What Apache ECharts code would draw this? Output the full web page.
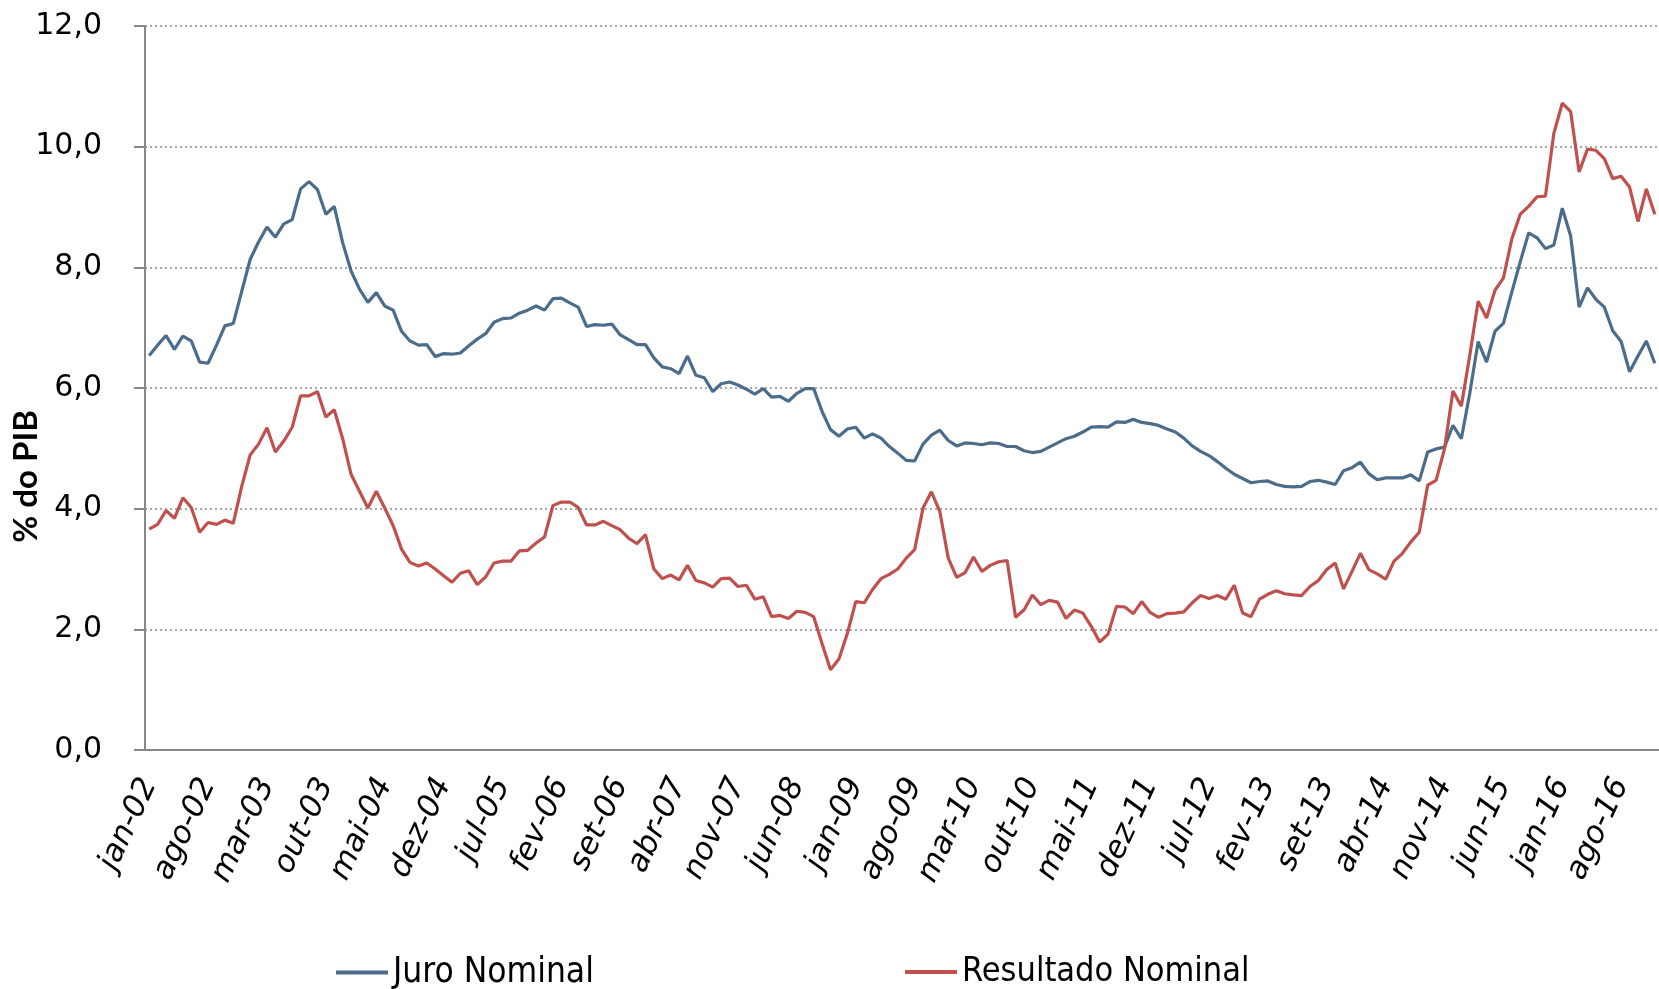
<!DOCTYPE html>
<html>
<head>
<meta charset="utf-8">
<script src="https://cdn.jsdelivr.net/npm/echarts@6/dist/echarts.min.js"></script>
<style>
  html, body { margin: 0; padding: 0; background: #fff; }
  #chart { width: 1659px; height: 989px; }
</style>
</head>
<body>
<div id="chart"></div>
<script>
// meses em pt-BR, série mensal jan-02 .. dez-16
let monthNames = ['jan', 'fev', 'mar', 'abr', 'mai', 'jun', 'jul', 'ago', 'set', 'out', 'nov', 'dez']
let years = ['02', '03', '04', '05', '06', '07', '08', '09', '10', '11', '12', '13', '14', '15', '16']

// % do PIB
let juroNominal = [
  6.54, 6.71, 6.87, 6.64, 6.86, 6.78, 6.43, 6.41, 6.71, 7.03, 7.07, 7.60,
  8.13, 8.42, 8.67, 8.50, 8.72, 8.79, 9.30, 9.42, 9.29, 8.88, 9.01, 8.41,
  7.94, 7.64, 7.42, 7.58, 7.36, 7.29, 6.94, 6.78, 6.71, 6.72, 6.52, 6.57,
  6.56, 6.58, 6.70, 6.81, 6.90, 7.09, 7.15, 7.16, 7.24, 7.29, 7.36, 7.29,
  7.48, 7.49, 7.41, 7.34, 7.02, 7.05, 7.04, 7.06, 6.88, 6.80, 6.72, 6.72,
  6.50, 6.35, 6.32, 6.24, 6.53, 6.21, 6.17, 5.94, 6.07, 6.10, 6.05, 5.98,
  5.90, 5.99, 5.85, 5.86, 5.78, 5.91, 5.99, 5.99, 5.61, 5.31, 5.20, 5.32,
  5.35, 5.17, 5.24, 5.17, 5.03, 4.92, 4.80, 4.79, 5.07, 5.22, 5.30, 5.13,
  5.04, 5.09, 5.08, 5.06, 5.09, 5.08, 5.03, 5.03, 4.96, 4.93, 4.95, 5.02,
  5.09, 5.16, 5.20, 5.27, 5.35, 5.36, 5.35, 5.44, 5.43, 5.48, 5.43, 5.41,
  5.38, 5.32, 5.27, 5.17, 5.04, 4.95, 4.88, 4.78, 4.67, 4.57, 4.50, 4.43,
  4.45, 4.46, 4.40, 4.37, 4.36, 4.37, 4.45, 4.47, 4.44, 4.40, 4.63, 4.68,
  4.77, 4.58, 4.48, 4.51, 4.51, 4.51, 4.56, 4.46, 4.94, 4.99, 5.02, 5.38,
  5.16, 5.91, 6.77, 6.43, 6.94, 7.07, 7.59, 8.09, 8.57, 8.49, 8.31, 8.37,
  8.98, 8.52, 7.34, 7.66, 7.47, 7.34, 6.95, 6.77, 6.27, 6.53, 6.78, 6.41
]
let resultadoNominal = [
  3.66, 3.74, 3.97, 3.84, 4.18, 4.02, 3.61, 3.77, 3.74, 3.81, 3.76, 4.37,
  4.89, 5.07, 5.34, 4.94, 5.12, 5.35, 5.87, 5.87, 5.94, 5.52, 5.64, 5.16,
  4.57, 4.29, 4.01, 4.29, 4.01, 3.72, 3.33, 3.11, 3.05, 3.10, 3.00, 2.89,
  2.78, 2.93, 2.97, 2.74, 2.87, 3.10, 3.13, 3.13, 3.30, 3.31, 3.43, 3.53,
  4.05, 4.11, 4.11, 4.02, 3.73, 3.73, 3.79, 3.72, 3.65, 3.51, 3.42, 3.57,
  3.00, 2.84, 2.90, 2.82, 3.06, 2.81, 2.77, 2.70, 2.84, 2.85, 2.71, 2.73,
  2.50, 2.54, 2.21, 2.23, 2.18, 2.30, 2.28, 2.21, 1.76, 1.33, 1.51, 1.93,
  2.46, 2.44, 2.66, 2.84, 2.91, 3.00, 3.18, 3.32, 4.01, 4.28, 3.95, 3.18,
  2.86, 2.94, 3.20, 2.96, 3.06, 3.12, 3.14, 2.20, 2.32, 2.57, 2.41, 2.48,
  2.45, 2.18, 2.32, 2.27, 2.05, 1.79, 1.92, 2.38, 2.37, 2.26, 2.46, 2.28,
  2.20, 2.26, 2.27, 2.29, 2.44, 2.56, 2.51, 2.56, 2.50, 2.73, 2.27, 2.21,
  2.50, 2.58, 2.64, 2.59, 2.57, 2.56, 2.71, 2.81, 2.99, 3.10, 2.67, 2.96,
  3.26, 2.99, 2.92, 2.83, 3.13, 3.26, 3.45, 3.61, 4.39, 4.47, 4.99, 5.95,
  5.70, 6.54, 7.44, 7.16, 7.62, 7.82, 8.47, 8.88, 9.01, 9.17, 9.18, 10.22,
  10.72, 10.58, 9.58, 9.96, 9.94, 9.80, 9.47, 9.51, 9.33, 8.76, 9.30, 8.88
]

let meses = []
for (let y = 0; y < years.length; y++) {
  for (let m = 0; m < 12; m++) {
    meses.push(monthNames[m] + '-' + years[y])
  }
}

let legendFont = 'Liberation Sans Narrow, DejaVu Sans Condensed, sans-serif'

let chartDom = document.getElementById('chart')
let myChart = echarts.init(chartDom)
let option = {
  animation: false,
  backgroundColor: '#fff',
  grid: {
    left: 145,
    top: 26,
    bottom: 239,
    right: -4
  },
  // titulo do eixo y, um pouco abaixo do meio como no original
  graphic: [
    {
      type: 'text',
      left: 10,
      top: 410,
      rotation: Math.PI / 2,
      style: {
        text: '% do PIB',
        fontFamily: 'Lato',
        fontWeight: 'bold',
        fontSize: 33,
        fill: '#000'
      }
    }
  ],
  legend: [
    {
      data: ['Juro Nominal'],
      left: 331,
      top: 950,
      icon: 'rect',
      itemWidth: 52,
      itemHeight: 4,
      itemGap: 4,
      textStyle: { fontFamily: legendFont, fontSize: 35, color: '#000' }
    },
    {
      data: ['Resultado Nominal'],
      left: 900,
      top: 950,
      icon: 'rect',
      itemWidth: 52,
      itemHeight: 4,
      itemGap: 4,
      textStyle: { fontFamily: legendFont, fontSize: 34, color: '#000' }
    }
  ],
  xAxis: {
    type: 'category',
    data: meses,
    boundaryGap: true,
    axisLine: { lineStyle: { color: '#888', width: 2 } },
    axisTick: { interval: 6, length: 10, lineStyle: { color: '#888', width: 2 } },
    axisLabel: {
      interval: 6,
      rotate: 65,
      margin: 30,
      fontFamily: 'DejaVu Sans',
      fontStyle: 'italic',
      fontSize: 31,
      color: '#000'
    }
  },
  yAxis: {
    type: 'value',
    min: 0,
    max: 12,
    interval: 2,
    axisLine: { show: true, lineStyle: { color: '#888', width: 2 } },
    axisTick: { show: true, length: 11, lineStyle: { color: '#888', width: 2 } },
    axisLabel: {
      margin: 43,
      fontFamily: 'DejaVu Sans',
      fontSize: 30,
      color: '#000',
      formatter: function (v) { return v.toFixed(1).replace('.', ',') }
    },
    splitLine: { lineStyle: { color: '#8a8a8a', width: 1.5, type: [2, 3] } }
  },
  series: [
    {
      name: 'Juro Nominal',
      type: 'line',
      data: juroNominal,
      symbol: 'none',
      color: '#4B6C8B',
      lineStyle: { width: 3.2, color: '#4B6C8B' }
    },
    {
      name: 'Resultado Nominal',
      type: 'line',
      data: resultadoNominal,
      symbol: 'none',
      color: '#C0504D',
      lineStyle: { width: 3.2, color: '#C0504D' }
    }
  ]
}
myChart.setOption(option)
</script>
</body>
</html>
